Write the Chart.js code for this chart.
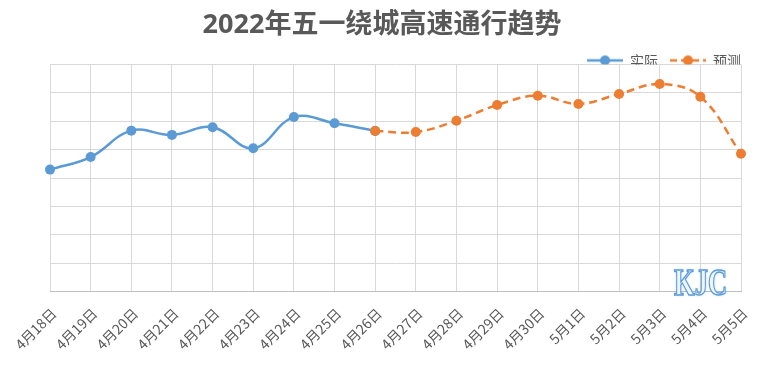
<!DOCTYPE html>
<html>
<head>
<meta charset="utf-8">
<script src="https://cdn.jsdelivr.net/npm/chart.js@4/dist/chart.umd.min.js"></script>
<style>
  html, body { margin: 0; padding: 0; background: #fff; }
  #wrap { width: 766px; height: 368px; }
</style>
</head>
<body>
<div id="wrap"><canvas id="trend"></canvas></div>
<script>
const titleText = "2022年五一绕城高速通行趋势";

const dates = [
  "4月18日", "4月19日", "4月20日", "4月21日", "4月22日", "4月23日",
  "4月24日", "4月25日", "4月26日", "4月27日", "4月28日", "4月29日",
  "4月30日", "5月1日", "5月2日", "5月3日", "5月4日", "5月5日",
];

// actual traffic (no axis labels in the original, so units are relative)
const actual = [4.3, 4.74, 5.67, 5.52, 5.79, 5.05, 6.15, 5.93, 5.66,
  null, null, null, null, null, null, null, null, null];

// forecast picks up from the last actual day
const forecast = [null, null, null, null, null, null, null, null, 5.66,
  5.62, 6.02, 6.57, 6.9, 6.61, 6.96, 7.31, 6.86, 4.86];

const seriesNames = ["实际", "预测"];

const blue = "#5b9bd5";
const orange = "#ed7d31";
const textGray = "#595959";

// line+dot swatch for the legend; the empty strip on the left acts as the gap between items
const makeSwatch = (color, dashed) => {
  const c = document.createElement("canvas");
  c.width = 48;
  c.height = 12;
  const ctx = c.getContext("2d");
  ctx.strokeStyle = color;
  ctx.lineWidth = 2.5;
  if (dashed) ctx.setLineDash([7, 4]);
  ctx.beginPath();
  ctx.moveTo(12, 6);
  ctx.lineTo(48, 6);
  ctx.stroke();
  ctx.fillStyle = color;
  ctx.beginPath();
  ctx.arc(30, 6, 5, 0, Math.PI * 2);
  ctx.fill();
  return c;
};

const swatches = [makeSwatch(blue, false), makeSwatch(orange, true)];

const watermark = {
  id: "watermark",
  afterDraw(chart) {
    const { ctx, chartArea } = chart;
    ctx.save();
    ctx.translate(chartArea.right - 67, chartArea.bottom + 3);
    ctx.scale(0.72, 1);
    ctx.font = "bold 37px 'Liberation Serif'";
    ctx.textBaseline = "alphabetic";
    ctx.shadowColor = "rgba(91, 155, 213, 0.5)";
    ctx.shadowBlur = 3;
    ctx.fillStyle = "#eef5fc";
    ctx.fillText("KJC", 0, 0);
    ctx.shadowBlur = 0;
    ctx.strokeStyle = blue;
    ctx.lineWidth = 1.4;
    ctx.strokeText("KJC", 0, 0);
    ctx.restore();
  },
};

new Chart(document.getElementById("trend").getContext("2d"), {
  type: "line",
  data: {
    labels: dates,
    datasets: [
      {
        label: seriesNames[0],
        data: actual,
        borderColor: blue,
        backgroundColor: blue,
        borderWidth: 2.5,
        pointRadius: 5,
        pointBorderWidth: 0,
        tension: 0.4,
        order: 1,
      },
      {
        label: seriesNames[1],
        data: forecast,
        borderColor: orange,
        backgroundColor: orange,
        borderWidth: 2.5,
        borderDash: [8, 5],
        pointRadius: 5,
        pointBorderWidth: 0,
        tension: 0.4,
        order: 0,
      },
    ],
  },
  options: {
    responsive: true,
    maintainAspectRatio: false,
    animation: false,
    layout: {
      padding: { left: 23, right: 25, bottom: 2 },
    },
    plugins: {
      title: {
        display: true,
        text: titleText,
        color: textGray,
        font: { family: "'Open Sans', 'Noto Sans CJK SC'", size: 27, weight: "bold" },
        padding: { top: 9, bottom: 12 },
      },
      legend: {
        position: "top",
        align: "end",
        maxHeight: 11,
        labels: {
          color: textGray,
          font: { family: "'Noto Sans CJK SC'", size: 14 },
          usePointStyle: true,
          pointStyleWidth: 48,
          padding: 0,
          generateLabels: () =>
            seriesNames.map((name, i) => ({
              text: name,
              pointStyle: swatches[i],
              fontColor: textGray,
              datasetIndex: i,
              hidden: false,
            })),
        },
      },
      tooltip: { enabled: false },
    },
    scales: {
      x: {
        grid: { color: "#d9d9d9", drawTicks: false },
        border: { color: "#bfbfbf" },
        ticks: {
          color: textGray,
          font: { family: "'Noto Sans CJK SC'", size: 14 },
          minRotation: 45,
          maxRotation: 45,
          padding: 13,
          labelOffset: 4,
        },
        afterFit: (scale) => {
          scale.paddingLeft = 50;
          scale.paddingRight = 25;
        },
      },
      y: {
        min: 0,
        max: 8,
        grid: { color: "#d9d9d9", drawTicks: false },
        border: { display: false },
        ticks: { display: false, stepSize: 1 },
      },
    },
  },
  plugins: [watermark],
});
</script>
</body>
</html>
